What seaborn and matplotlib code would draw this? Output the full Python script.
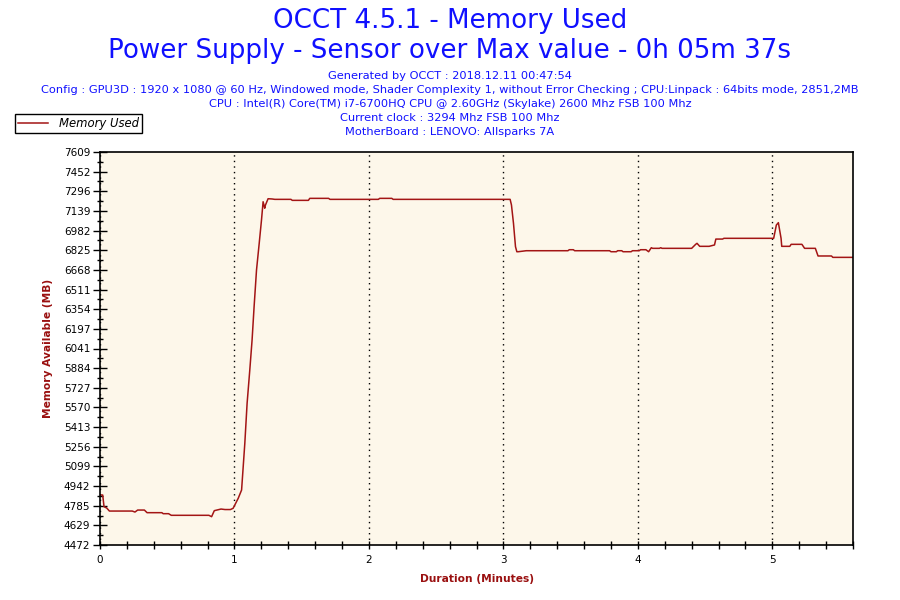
import numpy as np
import pandas as pd
import seaborn as sns
from matplotlib import pyplot as plt
from matplotlib.ticker import MultipleLocator, FixedLocator

# data
minutes = [0.00, 0.01, 0.02, 0.03, 0.05, 0.07, 0.24, 0.26, 0.28, 0.33, 0.35, 0.46, 0.47, 0.51,
           0.53, 0.81, 0.83, 0.85, 0.90, 0.93, 0.97, 0.99, 1.028, 1.053, 1.065, 1.077, 1.094,
           1.114, 1.131, 1.146, 1.164, 1.184, 1.201, 1.213, 1.225, 1.23, 1.25, 1.28, 1.30, 1.42,
           1.43, 1.55, 1.56, 1.70, 1.71, 2.07, 2.08, 2.17, 2.18, 3.05, 3.06, 3.075, 3.09, 3.10,
           3.11, 3.17, 3.48, 3.49, 3.52, 3.53, 3.79, 3.80, 3.84, 3.85, 3.88, 3.89, 3.95, 3.96,
           4.01, 4.02, 4.06, 4.08, 4.10, 4.11, 4.16, 4.17, 4.18, 4.40, 4.43, 4.44, 4.46, 4.53,
           4.57, 4.58, 4.63, 4.64, 5.01, 5.03, 5.045, 5.05, 5.065, 5.07, 5.13, 5.14, 5.22, 5.24,
           5.32, 5.34, 5.44, 5.45, 5.60]
memory = [4871, 4871, 4871, 4778, 4767, 4743, 4743, 4735, 4751, 4751, 4730, 4730, 4722, 4722,
          4709, 4709, 4698, 4746, 4759, 4755, 4755, 4765, 4845, 4911, 5097, 5284, 5603,
          5869, 6108, 6374, 6667, 6880, 7066, 7212, 7160, 7184, 7236, 7234, 7231, 7231,
          7223, 7223, 7239, 7239, 7231, 7231, 7239, 7239, 7231, 7231, 7186, 7040, 6853, 6813,
          6813, 6821, 6821, 6829, 6829, 6821, 6821, 6813, 6813, 6821, 6821, 6813, 6813, 6821,
          6821, 6829, 6829, 6813, 6845, 6840, 6840, 6845, 6840, 6840, 6872, 6880, 6856, 6856,
          6867, 6914, 6914, 6920, 6920, 7026, 7045, 7013, 6920, 6856, 6856, 6872, 6872, 6840,
          6840, 6779, 6779, 6768, 6768]

y_labels = ["4472", "4629", "4785", "4942", "5099", "5256", "5413", "5570", "5727", "5884",
            "6041", "6197", "6354", "6511", "6668", "6825", "6982", "7139", "7296", "7452", "7609"]

header = ["Generated by OCCT : 2018.12.11 00:47:54",
          "Config : GPU3D : 1920 x 1080 @ 60 Hz, Windowed mode, Shader Complexity 1, without Error Checking ; CPU:Linpack : 64bits mode, 2851,2MB",
          "CPU : Intel(R) Core(TM) i7-6700HQ CPU @ 2.60GHz (Skylake) 2600 Mhz FSB 100 Mhz",
          "Current clock : 3294 Mhz FSB 100 Mhz",
          "MotherBoard : LENOVO: Allsparks 7A"]

df = pd.DataFrame({"Minutes": minutes, "Memory": memory})

blue = "#1010ff"
dark_red = "#9a1010"

plt.rcParams['font.family'] = ['DejaVu Sans']
fig = plt.figure(figsize=(9, 6), dpi=100)
ax = fig.add_axes([100 / 900, 55 / 600, 753 / 900, 393 / 600])
ax.set_facecolor("#fdf7ea")

sns.lineplot(data=df, x="Minutes", y="Memory", ax=ax, color="#a31515", linewidth=1.1,
             estimator=None, label="Memory Used", legend=False)

ax.set_xlim(0, 5.6)
y_lo, y_hi = float(y_labels[0]), float(y_labels[-1])
ax.set_ylim(y_lo, y_hi)
y_pos = np.linspace(y_lo, y_hi, len(y_labels))
ax.yaxis.set_major_locator(FixedLocator(y_pos))
ax.set_yticklabels(y_labels)
ax.yaxis.set_minor_locator(FixedLocator((y_pos[:-1] + y_pos[1:]) / 2))
ax.xaxis.set_major_locator(MultipleLocator(1))
ax.xaxis.set_minor_locator(MultipleLocator(0.2))

ax.tick_params(axis='y', which='major', direction='inout', length=10, width=1, labelsize=7.5, pad=2)
ax.tick_params(axis='y', which='minor', direction='inout', length=4, width=1)
ax.tick_params(axis='x', which='both', direction='inout', length=6, width=1, labelsize=7.5, pad=4)
for side in ax.spines.values():
    side.set_color("black")
    side.set_linewidth(1.2)

ax.grid(axis='x', which='major', color='black', linestyle=(0, (1, 3)), linewidth=1)

ax.set_xlabel("Duration (Minutes)", color=dark_red, fontweight='bold', fontsize=7.7, labelpad=7)
ax.set_ylabel("Memory Available (MB)", color=dark_red, fontweight='bold', fontsize=7.7, labelpad=8)

fig.text(0.5, 1 - 21 / 600, "OCCT 4.5.1 - Memory Used", ha='center', va='center', color=blue, fontsize=18.8)
fig.text(0.5, 1 - 51 / 600, "Power Supply - Sensor over Max value - 0h 05m 37s", ha='center', va='center',
         color=blue, fontsize=18.8)
for i, line in enumerate(header):
    fig.text(0.5, 1 - (76 + 14 * i) / 600, line, ha='center', va='center', color=blue, fontsize=8.2)

leg = fig.legend(*ax.get_legend_handles_labels(), loc='upper left', bbox_to_anchor=(15 / 900, 1 - 114 / 600),
                 prop={'style': 'italic', 'size': 8.4}, fancybox=False, edgecolor='black', framealpha=1,
                 handlelength=2.6, borderpad=0.25, handletextpad=0.9, borderaxespad=0)
leg.get_frame().set_linewidth(1)

fig.savefig("out.png", dpi=100)
